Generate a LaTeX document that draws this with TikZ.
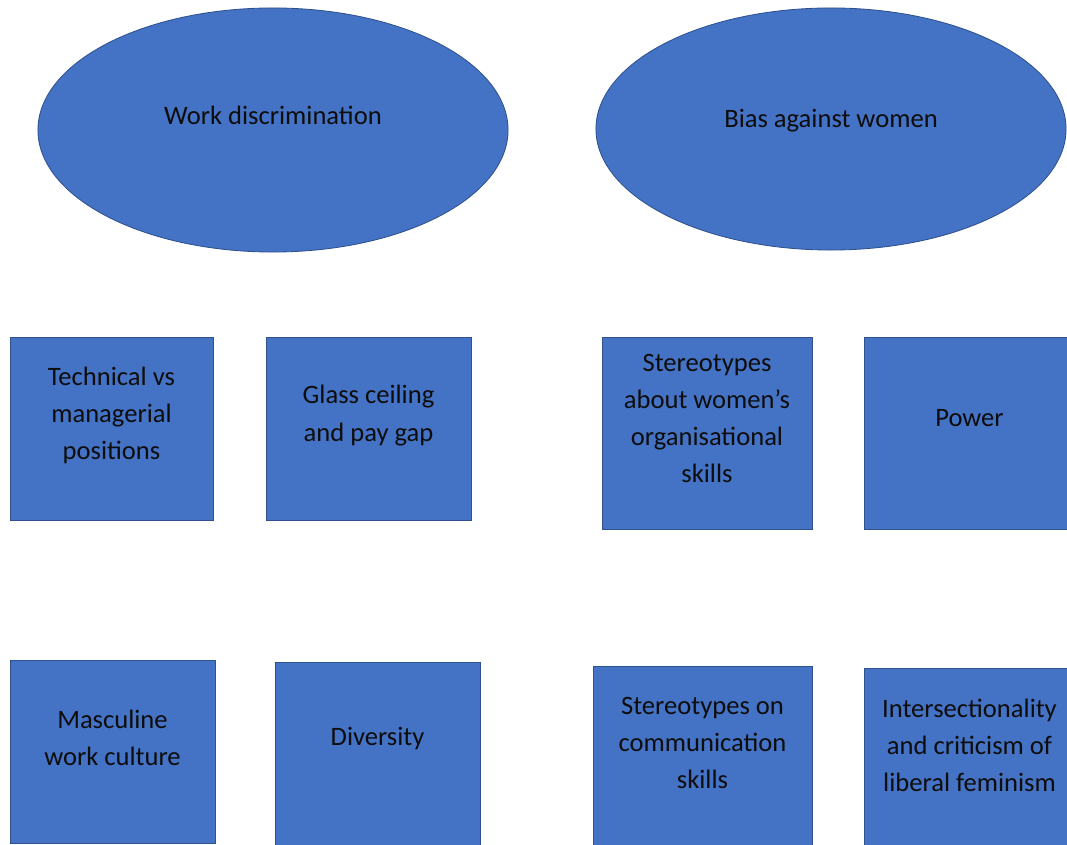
\documentclass[tikz,border=0pt]{standalone}
\usepackage{fontspec}
\setmainfont{Carlito}
\usepackage{tikz}
\usepackage{xcolor}
\usetikzlibrary{calc}
\usetikzlibrary{shapes.geometric}
\definecolor{fillcol}{HTML}{4472C4}
\definecolor{edgecol}{HTML}{2F528F}

\begin{document}
\begin{tikzpicture}[x=0.025cm, y=-0.025cm]
\tikzstyle{ostyle}=[ellipse, draw=edgecol, fill=fillcol, line width=0.6pt, inner sep=0pt]
\tikzstyle{bstyle}=[rectangle, draw=edgecol, fill=fillcol, line width=0.6pt, inner sep=0pt]
\tikzstyle{tstyle}=[align=center, text=black!95, font=\fontsize{18.9}{26.4}\selectfont]

\useasboundingbox (0,0) rectangle (1067,845);
\clip (0,0) rectangle (1067,845);

% the two themes
\node[ostyle, minimum width=11.75cm, minimum height=6.1cm] (work) at (273,130) {};
\node[ostyle, minimum width=11.75cm, minimum height=6.05cm] (bias) at (831,129) {};
\node[tstyle] (workt) at ($(work)+(0,-15)$) {Work discrimination};
\node[tstyle] (biast) at ($(bias)+(0,-8)$) {Bias against women};

% first row
\node[bstyle, minimum width=5.075cm, minimum height=4.575cm] (tech) at (111.5,428.5) {};
\node[bstyle, minimum width=5.125cm, minimum height=4.575cm] (glass) at (368.5,428.5) {};
\node[bstyle, minimum width=5.25cm, minimum height=4.8cm] (stereo) at (707,433) {};
\node[bstyle, minimum width=5.275cm, minimum height=4.8cm] (power) at (969.5,433) {};
\node[tstyle] (techt) at ($(tech)+(0,-13)$) {Technical vs\\managerial\\positions};
\node[tstyle] (glasst) at ($(glass)+(0,-13)$) {Glass ceiling\\and pay gap};
\node[tstyle] (stereot) at ($(stereo)+(0,-14.5)$) {Stereotypes\\about women’s\\organisational\\skills};
\node[tstyle] (powert) at ($(power)+(0,-15)$) {Power};

% second row
\node[bstyle, minimum width=5.125cm, minimum height=4.575cm] (masc) at (112.5,751.5) {};
\node[bstyle, minimum width=5.125cm, minimum height=4.575cm] (div) at (377.5,753.5) {};
\node[bstyle, minimum width=5.475cm, minimum height=4.6cm] (comm) at (702.5,758) {};
\node[bstyle, minimum width=5.275cm, minimum height=4.6cm] (inter) at (969.5,760) {};
\node[tstyle] (masct) at ($(masc)+(0,-13.5)$) {Masculine\\work culture};
\node[tstyle] (divt) at ($(div)+(0,-15.5)$) {Diversity};
\node[tstyle] (commt) at ($(comm)+(0,-15)$) {Stereotypes on\\communication\\skills};
\node[tstyle] (intert) at ($(inter)+(0,-15)$) {Intersectionality\\and criticism of\\liberal feminism};
\end{tikzpicture}
\end{document}
